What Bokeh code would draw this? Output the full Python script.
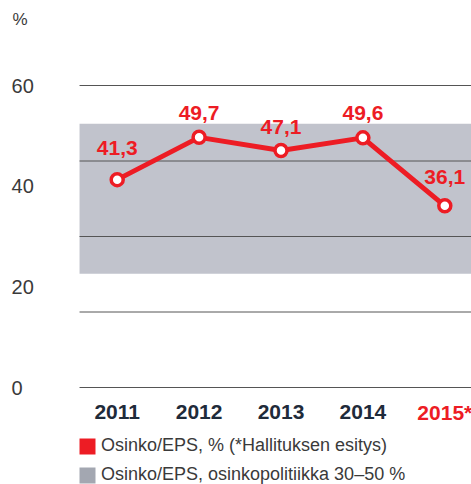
from bokeh.plotting import figure
from bokeh.models import ColumnDataSource, Legend, LegendItem, Range1d
from bokeh.core.properties import value
from bokeh.embed import file_html
from bokeh.resources import INLINE

# ---- data ----
years = ["2011", "2012", "2013", "2014", "2015*"]
payout = [41.3, 49.7, 47.1, 49.6, 36.1]
payout_labels = ["41,3", "49,7", "47,1", "49,6", "36,1"]
policy_low = 22.6
policy_high = 52.4
grid_values = [0, 15, 30, 45, 60]
y_ticks = [0, 20, 40, 60]
y_tick_labels = ["0", "20", "40", "60"]
legend_labels = ["Osinko/EPS, % (*Hallituksen esitys)",
                 "Osinko/EPS, osinkopolitiikka 30\u201350 %"]

# ---- styles ----
RED = "#ed1c24"
DARK = "#1f2b3a"
BAND = "#c1c3cc"
BAND_LEG = "#a3a7b1"
GRID = "#555555"
TXT = "#3a3a3a"
FONT = "Liberation Sans"
year_colors = [DARK, DARK, DARK, DARK, RED]
label_dy = [-31.5, -24.5, -23.5, -24.5, -28.5]

xs = list(range(len(years)))
x0_plot = -0.46
x1_plot = 4.5

p = figure(width=471, height=484, output_backend="svg", toolbar_location=None,
           x_range=Range1d(-1.425, 4.326), y_range=Range1d(-19.27, 76.89),
           x_axis_type=None, y_axis_type=None,
           min_border_left=0, min_border_right=0, min_border_top=0, min_border_bottom=0)
p.outline_line_color = None
p.background_fill_color = "white"
p.border_fill_color = "white"

# policy band
p.quad(left=[x0_plot], right=[x1_plot], bottom=[policy_low], top=[policy_high],
       fill_color=BAND, line_color=None)

# grid lines
p.segment(x0=[x0_plot] * len(grid_values), x1=[x1_plot] * len(grid_values),
          y0=grid_values, y1=grid_values, line_color=GRID, line_width=1)

# line + markers
src = ColumnDataSource(dict(x=xs, y=payout, lab=payout_labels, dy=label_dy))
p.line("x", "y", source=src, line_color=RED, line_width=5)
p.scatter("x", "y", source=src, size=12, fill_color="white", line_color=RED, line_width=3.5)
p.text("x", "y", text="lab", source=src, y_offset="dy", text_align="center",
       text_baseline="alphabetic", text_color=RED, text_font=value(FONT),
       text_font_style="bold", text_font_size="21px")

# y tick labels
p.text(x=[-1.29] * len(y_ticks), y=y_ticks, text=y_tick_labels,
       text_align="left", text_baseline="alphabetic", text_color=TXT,
       text_font=value(FONT), text_font_size="20px")

# unit label
p.text(x=[-1.278], y=[73.08], text=["%"], text_align="left", text_baseline="alphabetic",
       text_color=TXT, text_font=value(FONT), text_font_size="17px")

# year labels
ysrc = ColumnDataSource(dict(x=xs, y=[-4.93] * len(years), t=years, c=year_colors))
p.text("x", "y", text="t", source=ysrc, text_color="c", text_align="center",
       text_baseline="alphabetic", text_font=value(FONT), text_font_style="bold",
       text_font_size="21px")

# legend (swatches kept off-screen, shown only in the legend)
r_red = p.quad(left=[-10], right=[-9], top=[-100], bottom=[-101], fill_color=RED, line_color=None)
r_gray = p.quad(left=[-10], right=[-9], top=[-100], bottom=[-101], fill_color=BAND_LEG, line_color=None)
legend = Legend(items=[LegendItem(label=legend_labels[0], renderers=[r_red]),
                       LegendItem(label=legend_labels[1], renderers=[r_gray])],
                location=(77, -1), padding=0, margin=0, spacing=8,
                glyph_width=20, glyph_height=20, label_height=20, label_standoff=4,
                label_text_font=FONT, label_text_font_size="18px", label_text_color=TXT,
                background_fill_alpha=0, border_line_alpha=0)
p.add_layout(legend, "center")

open("out.html", "w").write(file_html(p, INLINE))
